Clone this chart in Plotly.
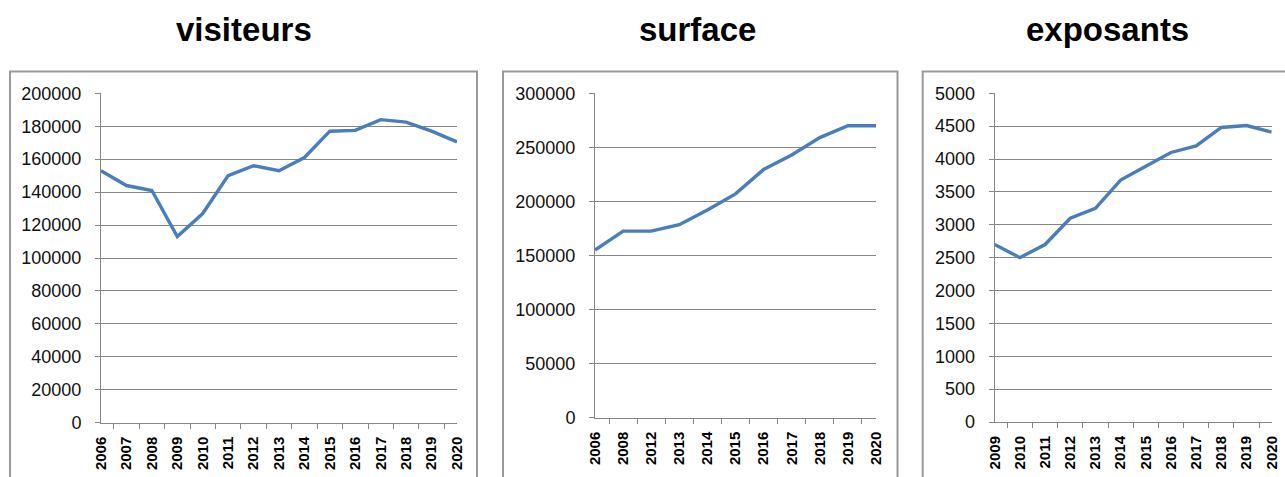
import plotly.graph_objects as go

W, H = 1285, 477

years_visiteurs = ["2006", "2007", "2008", "2009", "2010", "2011", "2012", "2013",
                   "2014", "2015", "2016", "2017", "2018", "2019", "2020"]
visiteurs = [153000, 144000, 141000, 113000, 127000, 150000, 156000, 153000,
             161000, 177000, 177500, 184000, 182500, 177000, 170500]

years_surface = ["2006", "2008", "2012", "2013", "2014", "2015", "2016", "2017",
                 "2018", "2019", "2020"]
surface = [155000, 172500, 172500, 178500, 192000, 207000, 229500, 243000,
           259000, 270000, 270000]

years_exposants = ["2009", "2010", "2011", "2012", "2013", "2014", "2015", "2016",
                   "2017", "2018", "2019", "2020"]
exposants = [2700, 2500, 2700, 3100, 3250, 3680, 3890, 4100, 4200, 4480, 4510, 4410]

titles = ["visiteurs", "surface", "exposants"]
y_ranges = [(0, 200000, 20000), (0, 300000, 50000), (0, 5000, 500)]


def px(x):
    return x / W


def py(y):
    return 1 - y / H


# plot areas in window pixels: (x0, x1, ytop, ybottom)
areas = [(101, 457, 93.3, 422.7), (595, 876, 93.3, 417.7), (994.7, 1271.7, 93.3, 422.0)]
frames = [(10, 477), (503, 897.5), (922.7, 1300)]
title_x = [244, 697, 1107]

LINE = "#4A7EBB"
GRID = "#868686"

fig = go.Figure()
series = [(years_visiteurs, visiteurs), (years_surface, surface), (years_exposants, exposants)]

for i, (xs, ys) in enumerate(series):
    n = "" if i == 0 else str(i + 1)
    fig.add_trace(go.Scatter(x=xs, y=ys, mode="lines",
                             line=dict(color=LINE, width=3.4),
                             xaxis="x" + n, yaxis="y" + n, showlegend=False))
    x0, x1, yt, yb = areas[i]
    lo, hi, dt = y_ranges[i]
    fig.update_layout(**{
        "xaxis" + n: dict(domain=[px(x0), px(x1)], anchor="y" + n, type="category",
                          automargin=False,
                          tickson="boundaries", ticks="outside", ticklen=5,
                          tickcolor=GRID, showline=True, linecolor=GRID, linewidth=1,
                          showgrid=False, tickangle=-90, ticklabelstandoff=7,
                          tickmode="array", tickvals=xs,
                          ticktext=["<b>" + s + "</b>" for s in xs],
                          tickfont=dict(family="Liberation Sans", size=15, color="#000"),
                          zeroline=False),
        "yaxis" + n: dict(domain=[py(yb), py(yt)], anchor="x" + n,
                          automargin=False,
                          range=[lo, hi], dtick=dt, tick0=0, ticks="outside", ticklen=5,
                          tickformat="d",
                          tickcolor=GRID, showline=True, linecolor=GRID, linewidth=1,
                          showgrid=True, gridcolor=GRID, gridwidth=1, zeroline=False,
                          ticklabelstandoff=10,
                          tickfont=dict(family="Liberation Sans", size=18, color="#111")),
    })
    fx0, fx1 = frames[i]
    fig.add_shape(type="rect", xref="paper", yref="paper",
                  x0=px(fx0), x1=px(fx1), y0=-0.2, y1=py(71.5),
                  line=dict(color="#9a9a9a", width=2), layer="below")
    fig.add_annotation(text="<b>" + titles[i] + "</b>", xref="paper", yref="paper",
                       x=px(title_x[i]), y=py(30), xanchor="center", yanchor="middle",
                       showarrow=False,
                       font=dict(family="Liberation Sans", size=33, color="#000"))

fig.update_layout(width=W, height=H, margin=dict(l=0, r=0, t=0, b=0),
                  paper_bgcolor="white", plot_bgcolor="white")

fig.write_html("out.html", config={"displayModeBar": False},
               post_script="document.body.style.margin='0';"
                           "document.body.style.overflow='hidden';")
